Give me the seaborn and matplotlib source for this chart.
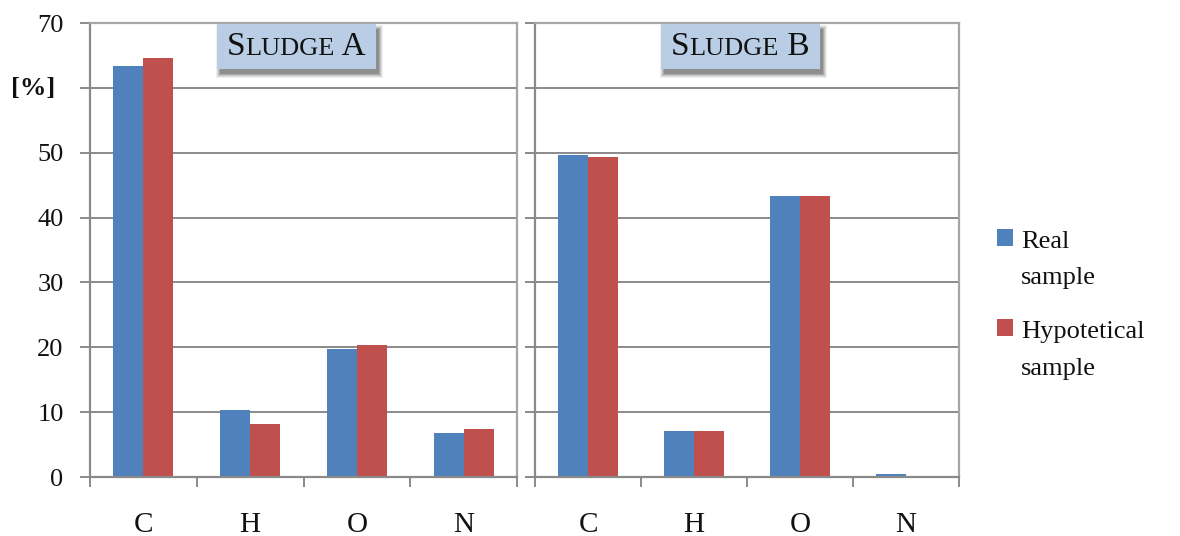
import matplotlib
matplotlib.use("Agg")
import matplotlib.pyplot as plt
import seaborn as sns
import pandas as pd
from matplotlib.patches import Rectangle, Patch
from matplotlib.legend_handler import HandlerPatch
from matplotlib.offsetbox import TextArea, HPacker, AnchoredOffsetbox

# Elemental composition (C, H, O, N) of two sludges, real vs. hypothetical sample
elements = ["C", "H", "O", "N"]
series_names = ["Real\nsample", "Hypotetical\nsample"]
sludge_a_real = [63.3, 10.3, 19.8, 6.8]
sludge_a_hyp = [64.6, 8.2, 20.4, 7.4]
sludge_b_real = [49.6, 7.1, 43.4, 0.45]
sludge_b_hyp = [49.3, 7.1, 43.4, 0.0]
y_ticks = [0, 10, 20, 30, 40, 50, 60, 70]
y_tick_labels = ["0", "10", "20", "30", "40", "50", "", "70"]

colors = ["#4f81bd", "#c0504d"]
grid_col = "#8a8a8a"
frame_col = "#a6a6a6"
text_col = "#111111"

sns.set_theme(style="white")
plt.rcParams['font.family'] = ['Liberation Serif', 'DejaVu Serif']

W, H = 1180, 536
fig = plt.figure(figsize=(W / 100, H / 100), dpi=100)


def px_axes(x0, x1, y0, y1):
    return fig.add_axes([x0 / W, 1 - y1 / H, (x1 - x0) / W, (y1 - y0) / H])


ax_a = px_axes(90, 517, 23, 477)
ax_b = px_axes(535, 959, 23, 477)

panels = [
    (ax_a, sludge_a_real, sludge_a_hyp, ("S", "LUDGE", " A"), 296),
    (ax_b, sludge_b_real, sludge_b_hyp, ("S", "LUDGE", " B"), 740),
]

for i, (ax, real, hyp, title, cx) in enumerate(panels):
    df = pd.DataFrame({
        "element": elements * 2,
        "value": real + hyp,
        "sample": [series_names[0]] * 4 + [series_names[1]] * 4,
    })
    sns.barplot(data=df, x="element", y="value", hue="sample",
                hue_order=series_names, order=elements, palette=colors,
                width=0.56, gap=0, errorbar=None, legend=False,
                saturation=1, linewidth=0, ax=ax)
    ax.set_xlim(-0.5, 3.5)
    ax.set_ylim(0, 70)
    ax.set_yticks(y_ticks)
    ax.set_yticklabels(y_tick_labels)
    ax.set_xlabel("")
    ax.set_ylabel("")
    ax.set_axisbelow(True)
    ax.yaxis.grid(True, color=grid_col, linewidth=1.4)
    ax.xaxis.grid(False)

    for side in ["left", "bottom"]:
        ax.spines[side].set_color(grid_col)
        ax.spines[side].set_linewidth(1.6)
    for side in ["right", "top"]:
        ax.spines[side].set_color(frame_col)
        ax.spines[side].set_linewidth(1.6)

    ax.tick_params(axis="y", which="major", left=True, direction="out",
                   length=7, width=1.4, color=grid_col, labelsize=19,
                   pad=12, labelleft=(i == 0), labelcolor=text_col)
    ax.set_xticks(range(len(elements)))
    ax.set_xticklabels(elements)
    ax.set_xticks([k - 0.5 for k in range(len(elements) + 1)], minor=True)
    ax.tick_params(axis="x", which="major", bottom=True, length=0,
                   pad=25, labelsize=21, labelcolor=text_col)
    ax.tick_params(axis="x", which="minor", bottom=True, direction="out",
                   length=7, width=1.4, color=grid_col)

    # Panel title box with soft drop shadow
    bx0, bx1, by0, by1 = cx - 79, cx + 80, 24, 69
    for k, a in enumerate([0.08, 0.11, 0.15, 0.20, 0.25]):
        grow = 4 - k
        fig.add_artist(Rectangle(((bx0 + 3 - grow) / W, 1 - (by1 + 5 + grow) / H),
                                 (bx1 - bx0 + 2 * grow) / W,
                                 (by1 - by0 + 2 * grow) / H,
                                 transform=fig.transFigure, facecolor="#404040",
                                 edgecolor="none", alpha=a, zorder=5))
    fig.add_artist(Rectangle((bx0 / W, 1 - by1 / H), (bx1 - bx0) / W,
                             (by1 - by0) / H, transform=fig.transFigure,
                             facecolor="#b9cde5", edgecolor="none", zorder=6))
    big, small, tail = title
    pack = HPacker(children=[
        TextArea(big, textprops=dict(size=24, color=text_col)),
        TextArea(small, textprops=dict(size=19, color=text_col)),
        TextArea(tail, textprops=dict(size=24, color=text_col)),
    ], align="baseline", pad=0, sep=0)
    anchored = AnchoredOffsetbox(loc="center", child=pack, frameon=False,
                                 pad=0, borderpad=0,
                                 bbox_to_anchor=(cx / W, 1 - 47 / H),
                                 bbox_transform=fig.transFigure)
    anchored.set_zorder(7)
    fig.add_artist(anchored)

fig.text(33 / W, 1 - 88 / H, "[%]", fontsize=19, fontweight="bold",
         ha="center", va="center", color=text_col)


class TopAlignedPatch(HandlerPatch):
    """Legend swatch aligned with the first line of a two-line label."""

    def create_artists(self, legend, orig_handle, xdescent, ydescent,
                       width, height, fontsize, trans):
        shift = 0.82 * fontsize
        p = Rectangle((-xdescent, -ydescent + shift), width, height,
                      facecolor=orig_handle.get_facecolor(),
                      edgecolor="none", transform=trans)
        return [p]


handles = [Patch(facecolor=c, edgecolor="none", label=n)
           for c, n in zip(colors, series_names)]
leg = fig.legend(handles=handles, loc="upper left",
                 bbox_to_anchor=(973 / W, 1 - 207 / H), frameon=False,
                 fontsize=19, handlelength=0.62, handleheight=0.62,
                 handletextpad=0.3, labelspacing=1.2,
                 handler_map={Patch: TopAlignedPatch()})
for t in leg.get_texts():
    t.set_linespacing(1.86)
    t.set_color(text_col)

fig.savefig("out.png", dpi=100)
